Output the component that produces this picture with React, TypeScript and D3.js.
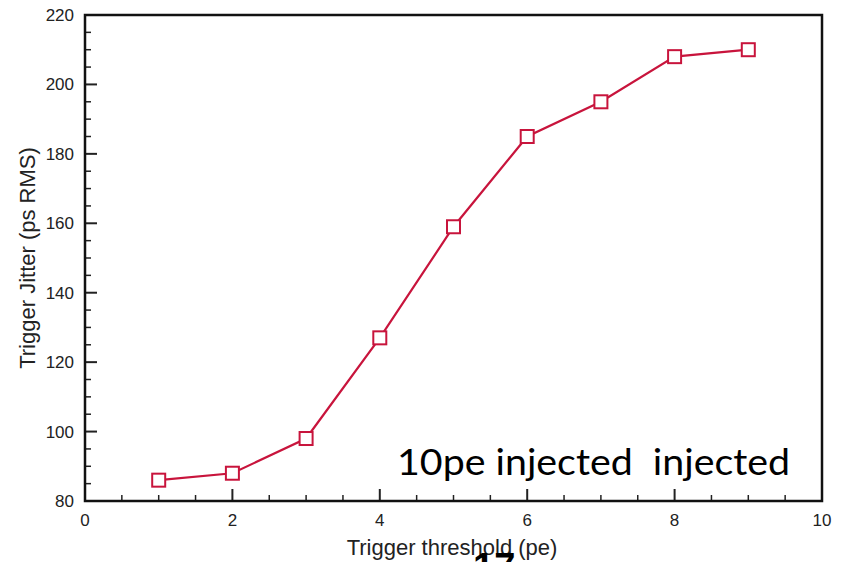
import React from "react";
import * as d3 from "d3";

const thresholds = [1, 2, 3, 4, 5, 6, 7, 8, 9];
const jitter = [86, 88, 98, 127, 159, 185, 195, 208, 210];
const xMajorTicks = [0, 2, 4, 6, 8, 10];
const yMajorTicks = [80, 100, 120, 140, 160, 180, 200, 220];
const xLabel = "Trigger threshold (pe)";
const yLabel = "Trigger Jitter (ps RMS)";
const annotation = "10pe injected  injected";
const slideNumber = "17";

const W = 844;
const H = 562;
const M = { left: 85, top: 15, right: 822, bottom: 501 };
const RED = "#c8143c";

export default function App() {
  const x = d3.scaleLinear().domain([0, 10]).range([M.left, M.right]);
  const y = d3.scaleLinear().domain([80, 220]).range([M.bottom, M.top]);
  const xMinor = d3.range(0, 10.001, 0.5).filter((v) => !xMajorTicks.includes(v));
  const yMinor = d3.range(80, 220.001, 5).filter((v) => !yMajorTicks.includes(v));
  const line = d3
    .line<number>()
    .x((_, i) => x(thresholds[i]))
    .y((d) => y(d));
  const font = "'Liberation Sans', Arial, Helvetica, sans-serif";
  const ms = 13;

  return (
    <svg
      width={W}
      height={H}
      style={{ position: "absolute", left: 0, top: 0, background: "#fff" }}
    >
      <rect x={0} y={0} width={W} height={H} fill="#fff" />
      {xMinor.map((v) => (
        <line key={"xm" + v} x1={x(v)} x2={x(v)} y1={M.bottom} y2={M.bottom - 6} stroke="#222" strokeWidth={1.5} />
      ))}
      {yMinor.map((v) => (
        <line key={"ym" + v} x1={M.left} x2={M.left + 6} y1={y(v)} y2={y(v)} stroke="#222" strokeWidth={1.5} />
      ))}
      {xMajorTicks.map((v) => (
        <line key={"xM" + v} x1={x(v)} x2={x(v)} y1={M.bottom} y2={M.bottom - 12} stroke="#222" strokeWidth={2} />
      ))}
      {yMajorTicks.map((v) => (
        <line key={"yM" + v} x1={M.left} x2={M.left + 12} y1={y(v)} y2={y(v)} stroke="#222" strokeWidth={2} />
      ))}
      <rect
        x={M.left}
        y={M.top}
        width={M.right - M.left}
        height={M.bottom - M.top}
        fill="none"
        stroke="#111"
        strokeWidth={2.5}
      />
      {xMajorTicks.map((v) => (
        <text key={"xl" + v} x={x(v)} y={526} textAnchor="middle" fontFamily={font} fontSize={17} fill="#222">
          {v}
        </text>
      ))}
      {yMajorTicks.map((v) => (
        <text key={"yl" + v} x={74} y={y(v) + 6} textAnchor="end" fontFamily={font} fontSize={17} fill="#222">
          {v}
        </text>
      ))}
      <text x={452} y={555} textAnchor="middle" fontFamily={font} fontSize={22} fill="#222">
        {xLabel}
      </text>
      <text
        transform={`translate(35,${258}) rotate(-90)`}
        textAnchor="middle"
        fontFamily={font}
        fontSize={22}
        fill="#222"
      >
        {yLabel}
      </text>
      <path d={line(jitter) || ""} fill="none" stroke={RED} strokeWidth={2.2} />
      {jitter.map((v, i) => (
        <rect
          key={"m" + i}
          x={x(thresholds[i]) - ms / 2}
          y={y(v) - ms / 2}
          width={ms}
          height={ms}
          fill="#fff"
          stroke={RED}
          strokeWidth={2}
        />
      ))}
      <text
        x={397}
        y={475}
        fontFamily="Lato, 'Open Sans', sans-serif"
        fontSize={37}
        fill="#000"
        textLength={393}
        lengthAdjust="spacingAndGlyphs"
        style={{ whiteSpace: "pre" }}
      >
        {annotation}
      </text>
      <text x={473} y={580} fontFamily="'Liberation Sans', Arial, sans-serif" fontWeight="bold" fontSize={38} fill="#000">
        {slideNumber}
      </text>
    </svg>
  );
}
